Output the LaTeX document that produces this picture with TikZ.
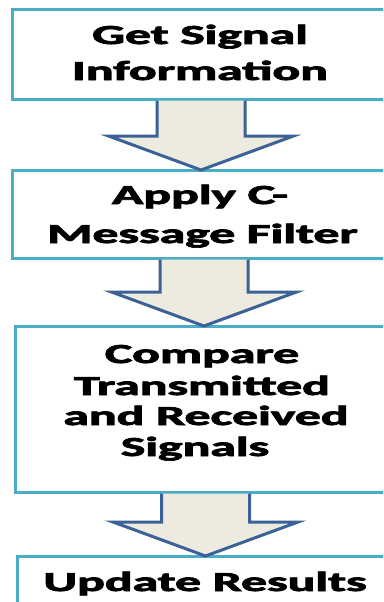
\documentclass[tikz,border=0pt]{standalone}
\usepackage{fontspec}
\usepackage{graphicx}
\usetikzlibrary{calc}
\newfontfamily\carlitoheavy{Carlito Bold}[FakeBold=2.5]
\definecolor{boxline}{HTML}{4BACC6}
\definecolor{arrowline}{HTML}{3A6296}
\definecolor{arrowfill}{HTML}{EDEBE0}
% wide heavy lettering
\newcommand\wide[1]{\scalebox{1.88}[1]{#1}}
% block arrow from the bottom of one box to the top of the next,
% #3 = centre x of the arrow (pt)
\newcommand\flowarrow[3]{%
  \path[flowarrowstyle] let \p1=(#1.south), \p2=(#2.north) in
    (#3pt-44pt,\y1-1.5pt) -- (#3pt-44pt,\y2+34pt) -- (#3pt-92.5pt,\y2+34pt)
    -- (#3pt,\y2) -- (#3pt+92.5pt,\y2+34pt) -- (#3pt+44pt,\y2+34pt)
    -- (#3pt+44pt,\y1-1.5pt);}
\begin{document}
\begin{tikzpicture}[x=1pt,y=-1pt,
  stepbox/.style={draw=boxline, line width=3pt, fill=white, rectangle,
    inner sep=0pt, outer sep=0pt},
  flowarrowstyle/.style={draw=arrowline, fill=arrowfill, line width=3pt,
    line join=miter},
  steptext/.style={anchor=base, inner sep=0pt,
    font=\carlitoheavy\fontsize{27.5}{27.5}\selectfont}]
\clip (0,0) rectangle (383,602);
\fill[white] (0,0) rectangle (383,602);

% step boxes
\node[stepbox, minimum width=376pt, minimum height=89pt] (b1) at (200,54.5) {};
\node[stepbox, minimum width=376pt, minimum height=88pt] (b2) at (200,214) {};
\node[stepbox, minimum width=374pt, minimum height=166pt] (b3) at (202,409) {};
\node[stepbox, minimum width=376pt, minimum height=94pt] (b4) at (205,603) {};

% arrows between the steps
\flowarrow{b1}{b2}{201}
\flowarrow{b2}{b3}{204}
\flowarrow{b3}{b4}{205.5}

% step labels
\node[steptext] (t1a) at (200,44) {\wide{Get Signal}};
\node[steptext] (t1b) at (200,80) {\wide{Information}};
\node[steptext] (t2a) at (200,204) {\wide{Apply C-}};
\node[steptext] (t2b) at (202.5,243) {\wide{Message Filter}};
\node[steptext] (t3a) at (202,363) {\wide{Compare}};
\node[steptext] (t3b) at (202,395) {\wide{Transmitted}};
\node[steptext] (t3c) at (206,425) {\wide{and Received}};
\node[steptext] (t3d) at (195,456) {\wide{Signals}};
\node[steptext] (t4a) at (205,591) {\wide{Update Results}};
\end{tikzpicture}
\end{document}
